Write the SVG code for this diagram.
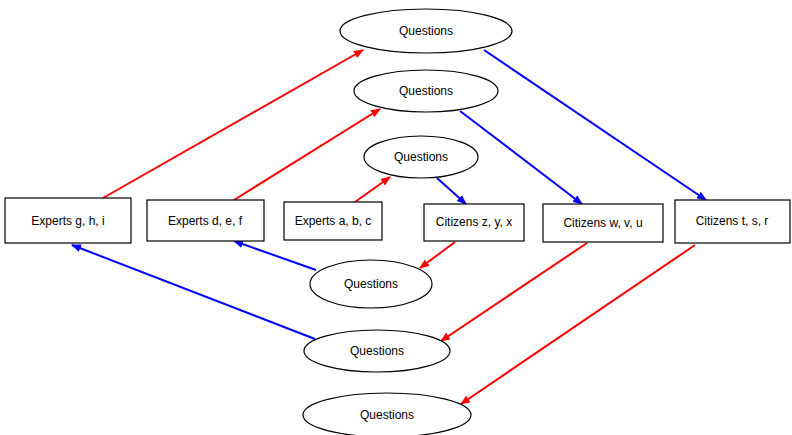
<svg xmlns="http://www.w3.org/2000/svg" width="792" height="435" viewBox="0 0 792 435">
<style>
.n ellipse,.n rect{fill:#fff;stroke:#000;stroke-width:1.2}
text{font-family:"Liberation Sans",Arial,sans-serif;font-size:12px;text-anchor:middle;dominant-baseline:central;fill:#000}
.r{stroke:#f00;stroke-width:2;fill:none;marker-end:url(#ar)}
.b{stroke:#00f;stroke-width:2;fill:none;marker-end:url(#ab)}
</style>
<defs>
<marker id="ar" markerWidth="10" markerHeight="8" refX="9" refY="4" orient="auto" markerUnits="userSpaceOnUse"><path d="M0,0 L10,4 L0,8 z" fill="#f00"/></marker>
<marker id="ab" markerWidth="10" markerHeight="8" refX="9" refY="4" orient="auto" markerUnits="userSpaceOnUse"><path d="M0,0 L10,4 L0,8 z" fill="#00f"/></marker>
</defs>
<rect width="792" height="435" fill="#fff"/>
<g id="edges">
<line class="r" x1="103" y1="198" x2="363" y2="50"/>
<line class="r" x1="234" y1="200" x2="380" y2="109"/>
<line class="r" x1="355" y1="202" x2="390" y2="177"/>
<line class="b" x1="437" y1="178" x2="466" y2="204"/>
<line class="b" x1="460" y1="111" x2="582" y2="204"/>
<line class="b" x1="484" y1="50" x2="706" y2="200"/>
<line class="r" x1="455" y1="242" x2="420" y2="268"/>
<line class="r" x1="587" y1="243" x2="441" y2="341"/>
<line class="r" x1="695" y1="245" x2="461" y2="404"/>
<line class="b" x1="316" y1="270" x2="234" y2="241"/>
<line class="b" x1="315" y1="339" x2="72" y2="245"/>
</g>
<g id="q1" class="n"><ellipse cx="426" cy="31" rx="86" ry="22"/><text x="426" y="31">Questions</text></g>
<g id="q2" class="n"><ellipse cx="426" cy="91" rx="72" ry="21"/><text x="426" y="91">Questions</text></g>
<g id="q3" class="n"><ellipse cx="421" cy="157" rx="57" ry="21"/><text x="421" y="157">Questions</text></g>
<g id="q4" class="n"><ellipse cx="371" cy="284" rx="61" ry="24"/><text x="371" y="284">Questions</text></g>
<g id="q5" class="n"><ellipse cx="377" cy="351" rx="73" ry="21"/><text x="377" y="351">Questions</text></g>
<g id="q6" class="n"><ellipse cx="387" cy="415" rx="84" ry="22"/><text x="387" y="415">Questions</text></g>
<g id="eghi" class="n"><rect x="5" y="198" width="126" height="45"/><text x="68" y="221">Experts g, h, i</text></g>
<g id="edef" class="n"><rect x="147" y="200" width="117" height="41"/><text x="205" y="221">Experts d, e, f</text></g>
<g id="eabc" class="n"><rect x="284" y="202" width="98" height="38"/><text x="333" y="221">Experts a, b, c</text></g>
<g id="czyx" class="n"><rect x="424" y="204" width="100" height="37"/><text x="474" y="222">Citizens z, y, x</text></g>
<g id="cwvu" class="n"><rect x="543" y="204" width="120" height="38"/><text x="603" y="223">Citizens w, v, u</text></g>
<g id="ctsr" class="n"><rect x="675" y="200" width="115" height="43"/><text x="732" y="221">Citizens t, s, r</text></g>
</svg>
